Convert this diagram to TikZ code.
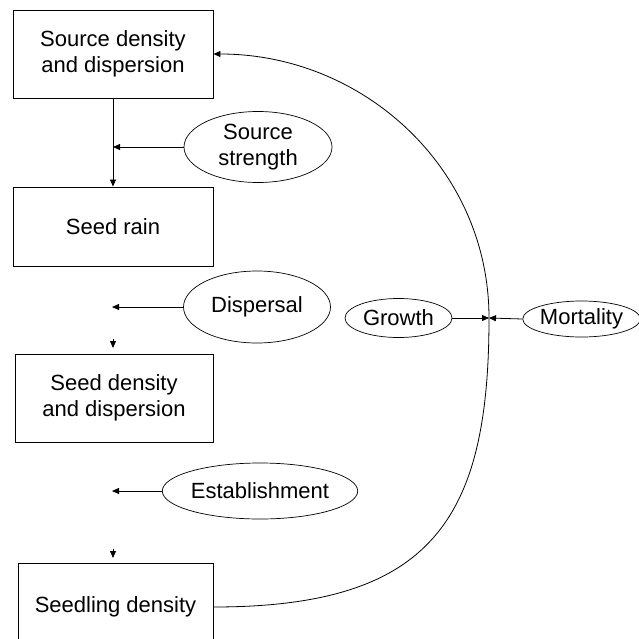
\documentclass[tikz,border=0pt]{standalone}
\usepackage{fontspec}
\setmainfont{Liberation Sans}
\usetikzlibrary{shapes.geometric,arrows.meta}
\begin{document}
\begin{tikzpicture}[x=1pt,y=-1pt,
  every node/.style={font=\fontsize{22}{26}\selectfont, align=center},
  box/.style={draw, line width=0.9pt, inner sep=0pt},
  oval/.style={draw, ellipse, line width=0.7pt, inner sep=0pt},
  conn/.style={line width=0.8pt},
  arr/.style={conn, -{Triangle[length=7pt,width=6pt]}}]
\useasboundingbox (0,0) rectangle (639,639);
\clip (0,0) rectangle (639,639);
% boxes
\node[box, minimum width=200pt, minimum height=88pt] (s1) at (113,54) {Source density\\and dispersion};
\node[box, minimum width=200pt, minimum height=79pt] (s2) at (113,226.5) {Seed rain};
\node[box, minimum width=198pt, minimum height=88pt] (s3) at (114,398) {Seed density\\and dispersion};
\node[box, minimum width=195pt, minimum height=88pt] (s4) at (115.5,607) {Seedling density};
% ovals
\node[oval, minimum width=148pt, minimum height=71pt] (ss) at (258,147) {Source\\strength};
\node[oval, minimum width=147pt, minimum height=72pt] (dp) at (257,307) {Dispersal};
\node[oval, minimum width=190pt, minimum height=56pt] (es) at (260,491) {Establishment};
\node[oval, minimum width=107pt, minimum height=39pt] (gr) at (398.5,318) {Growth};
\node[oval, minimum width=113pt, minimum height=36pt] (mo) at (581.5,319) {Mortality};
% coordinates
\coordinate (dpt) at (112,307);
\coordinate (d3a) at (113,339);
\coordinate (d3b) at (113,348);
\coordinate (est) at (112,491);
\coordinate (d4a) at (113,549);
\coordinate (d4b) at (113,558);
\coordinate (j) at (489,318);
% connectors
\draw[arr] (s1.south) -- (s2.north);
\draw[arr] (ss.west) -- (ss.west -| s1.south);
\draw[arr] (dp.west) -- (dpt);
\draw[arr] (d3a) -- (d3b);
\draw[arr] (es.west) -- (est);
\draw[arr] (d4a) -- (d4b);
\draw[arr] (gr.east) -- (j);
\draw[arr] (mo.west) -- (j);
\draw[arr] (s4.east) .. controls (433,607) and (489,518) .. (j)
  .. controls (489,168) and (363,54) .. (s1.east);
\end{tikzpicture}
\end{document}
